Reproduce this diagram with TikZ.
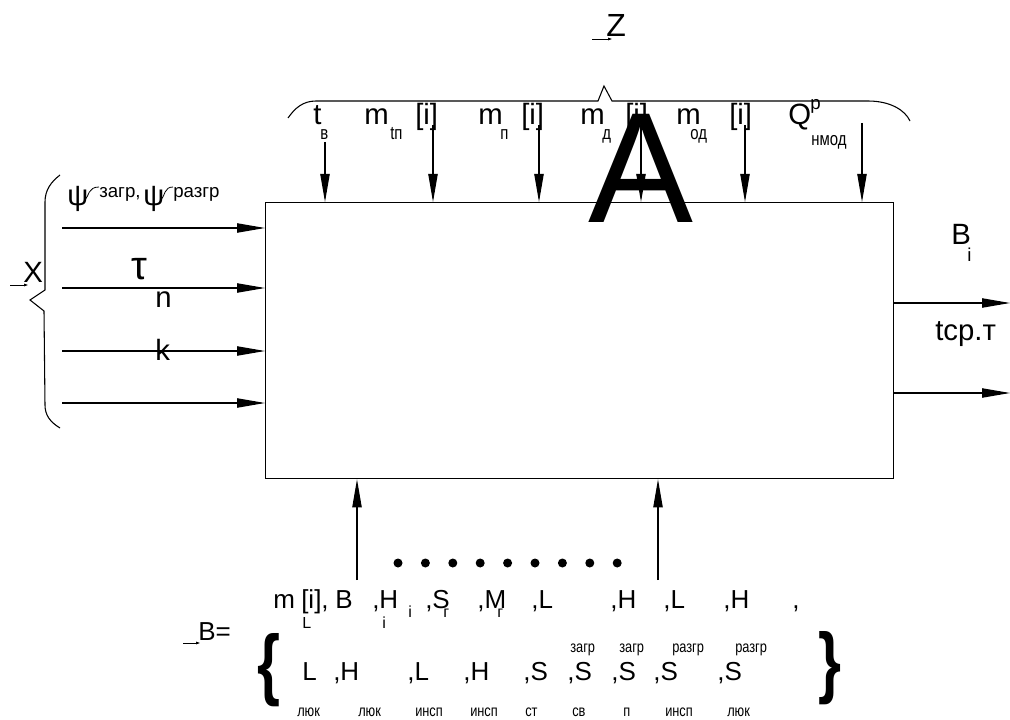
\documentclass[tikz,border=0pt]{standalone}
\usepackage{fontspec}
\setmainfont{Liberation Sans}
\usepackage{graphicx}
\usetikzlibrary{arrows.meta}

% condensed lettering for the small Cyrillic indices
\newcommand\nrw[1]{\scalebox{0.8}[1]{#1}}

\begin{document}
\begin{tikzpicture}[x=0.75pt,y=-0.75pt,
  txt/.style={inner sep=0pt,anchor=base west},
  lg/.style={txt,font=\fontsize{22}{26}\selectfont},
  md/.style={txt,font=\fontsize{19.5}{24}\selectfont},
  sm/.style={txt,font=\fontsize{14}{16}\selectfont},
  xs/.style={txt,font=\fontsize{12}{14}\selectfont},
  wire/.style={line width=0.8pt},
  flow/.style={wire,-{Triangle[length=21pt,width=7pt]}},
  vec/.style={line width=0.6pt,-{Triangle[length=3pt,width=2pt]}},
  brc/.style={txt,font=\fontsize{59}{60}\selectfont\bfseries}
]
\useasboundingbox (0,0) rectangle (1010,720);

% ---- the block ----
\node[draw,line width=1pt,inner sep=0pt,minimum width=471pt,minimum height=207pt,
      anchor=north west] (sys) at (265,202) {};
\node[txt,anchor=base,font=\fontsize{118}{120}\selectfont] (bigA) at (641,223) {A};

% ---- controlled inputs Z ----
\node[txt,font=\fontsize{24}{26}\selectfont] (zlab) at (606,37) {Z};
\coordinate (zu) at (592,39);
\draw[vec] (zu) -- ++(20,0);

\draw[wire] (288,118) .. controls (295,108) and (303,101) .. (316,101) -- (598,101)
  -- (604,86) -- (612,101) -- (868,101) .. controls (890,101) and (905,110) .. (910,121);

\node[lg] (t)   at (313,125) {t};
\node[sm] (tv)  at (320,140) {\nrw{в}};
\node[lg] (m1)  at (364,125) {m};
\node[sm] (m1s) at (390,140) {\nrw{tп}};
\node[lg] (i1)  at (415,125) {[i]};
\node[lg] (m2)  at (478,125) {m};
\node[sm] (m2s) at (500,140) {\nrw{п}};
\node[lg] (i2)  at (521,125) {[i]};
\node[lg] (m3)  at (580,125) {m};
\node[sm] (m3s) at (602,140) {\nrw{д}};
\node[lg] (i3)  at (625,125) {[i]};
\node[lg] (m4)  at (676,125) {m};
\node[sm] (m4s) at (690,140) {\nrw{од}};
\node[lg] (i4)  at (729,125) {[i]};
\node[lg] (Q)   at (788,125) {Q};
\node[sm] (Qp)  at (810,110) {р};
\node[sm] (Qs)  at (811,146) {\nrw{нмод}};

\coordinate (a1) at (325,142);
\coordinate (a2) at (433,125);
\coordinate (a3) at (539,125);
\coordinate (a4) at (641,125);
\coordinate (a5) at (745,125);
\coordinate (a6) at (862,123);
\foreach \p in {a1,a2,a3,a4,a5,a6}
  \draw[flow] (\p) -- (\p |- sys.north);

% ---- uncontrolled inputs X ----
\node[lg] (X) at (23,283) {X};
\coordinate (xu) at (10,285);
\draw[vec] (xu) -- ++(18,0);
\draw[wire] (60,175) .. controls (51,182) and (45,190) .. (45,202) -- (45,290)
  -- (30,300) -- (44,311) -- (45,405) .. controls (45,415) and (50,422) .. (60,428);

\node[txt,font=\fontsize{22}{24}\selectfont] (psi1) at (67,206) {ψ};
\node[txt,font=\fontsize{14}{15}\selectfont] (zg) at (99,198) {загр,};
\node[txt,font=\fontsize{22}{24}\selectfont] (psi2) at (143,206) {ψ};
\node[txt,font=\fontsize{14}{15}\selectfont] (rg) at (173,198) {разгр};
\draw[line width=0.6pt] (85,200) .. controls (89,196) and (88,187) .. (99,187);
\draw[line width=0.6pt] (161,200) .. controls (165,196) and (164,187) .. (173,187);

\node[txt,font=\fontsize{30}{32}\selectfont] (tau) at (131,280) {τ};
\node[lg] (n) at (155,307) {n};
\node[lg] (k) at (155,360) {k};

\coordinate (x1) at (62,228);
\coordinate (x2) at (62,288);
\coordinate (x3) at (62,351);
\coordinate (x4) at (62,403);
\foreach \p in {x1,x2,x3,x4}
  \draw[flow] (\p) -- (\p -| sys.west);

% ---- outputs ----
\node[lg] (Bo) at (951,245) {B};
\node[sm] (Boi) at (967,262) {i};
\node[lg] (tcp) at (935,340) {tср.т};
\coordinate (y1) at (1010,303);
\coordinate (y2) at (1010,393);
\draw[flow] (y1 -| sys.east) -- (y1);
\draw[flow] (y2 -| sys.east) -- (y2);

% ---- disturbances B ----
\coordinate (b1) at (357,580);
\coordinate (b2) at (658,580);
\draw[flow] (b1) -- (b1 |- sys.south);
\draw[flow] (b2) -- (b2 |- sys.south);

\foreach \i in {0,...,8}
  \fill ({398+\i*27.4},563) circle (4.5);

\node[md] (Beq) at (198,640) {B=};
\coordinate (bu) at (183,643);
\draw[vec] (bu) -- ++(17,0);

\node[brc] (lbr) at (257,690) {\scalebox{0.75}[1]{\{}};
\node[brc] (rbr) at (818,688) {\scalebox{0.75}[1]{\}}};

% first row
\node[md] (r1a) at (273,608) {m};
\node[md] (r1b) at (301,608) {[i],};
\node[md] (r1c) at (335,608) {B};
\node[md] (r1d) at (372,608) {,H};
\node[md] (r1e) at (425,608) {,S};
\node[md] (r1f) at (477,608) {,M};
\node[md] (r1g) at (531,608) {,L};
\node[md] (r1h) at (610,608) {,H};
\node[md] (r1i) at (663,608) {,L};
\node[md] (r1j) at (723,608) {,H};
\node[md] (r1k) at (792,608) {,};
\node[xs] (s1a) at (302,628) {L};
\node[xs] (s1b) at (382,628) {i};
\node[xs] (s1c) at (408,617) {i};
\node[xs] (s1d) at (443,617) {г};
\node[xs] (s1e) at (497,617) {г};

% upper indices of the second row
\node[xs] (u1) at (570,652) {\nrw{загр}};
\node[xs] (u2) at (619,652) {\nrw{загр}};
\node[xs] (u3) at (672,652) {\nrw{разгр}};
\node[xs] (u4) at (735,652) {\nrw{разгр}};

% second row
\node[md] (r2a) at (302,680) {L};
\node[md] (r2b) at (333,680) {,H};
\node[md] (r2c) at (407,680) {,L};
\node[md] (r2d) at (463,680) {,H};
\node[md] (r2e) at (523,680) {,S};
\node[md] (r2f) at (567,680) {,S};
\node[md] (r2g) at (611,680) {,S};
\node[md] (r2h) at (653,680) {,S};
\node[md] (r2i) at (717,680) {,S};

% lower indices of the second row
\node[xs] (l1) at (297,716) {\nrw{люк}};
\node[xs] (l2) at (358,716) {\nrw{люк}};
\node[xs] (l3) at (415,716) {\nrw{инсп}};
\node[xs] (l4) at (470,716) {\nrw{инсп}};
\node[xs] (l5) at (525,716) {\nrw{ст}};
\node[xs] (l6) at (572,716) {\nrw{св}};
\node[xs] (l7) at (623,716) {\nrw{п}};
\node[xs] (l8) at (665,716) {\nrw{инсп}};
\node[xs] (l9) at (727,716) {\nrw{люк}};
\end{tikzpicture}
\end{document}
